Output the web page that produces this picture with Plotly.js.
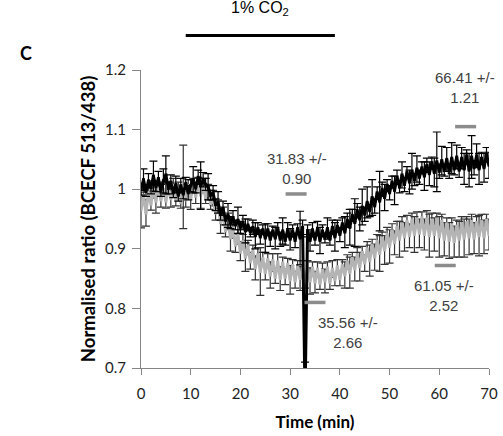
<!DOCTYPE html>
<html>
<head>
<meta charset="utf-8">
<script src="https://cdn.plot.ly/plotly-3.0.1.min.js"></script>
<style>html,body{margin:0;padding:0;background:#fff;}#chart{width:503px;height:436px;}</style>
</head>
<body>
<div id="chart"></div>
<script>
// Time (min)
var timeMin = [
0,0.5,1,1.5,2,2.5,3,3.5,4,4.5,
5,5.5,6,6.5,7,7.5,8,8.5,9,9.5,
10,10.5,11,11.5,12,12.5,13,13.5,14,14.5,
15,15.5,16,16.5,17,17.5,18,18.5,19,19.5,
20,20.5,21,21.5,22,22.5,23,23.5,24,24.5,
25,25.5,26,26.5,27,27.5,28,28.5,29,29.5,
30,30.5,31,31.5,32,32.5,33,33.5,34,34.5,
35,35.5,36,36.5,37,37.5,38,38.5,39,39.5,
40,40.5,41,41.5,42,42.5,43,43.5,44,44.5,
45,45.5,46,46.5,47,47.5,48,48.5,49,49.5,
50,50.5,51,51.5,52,52.5,53,53.5,54,54.5,
55,55.5,56,56.5,57,57.5,58,58.5,59,59.5,
60,60.5,61,61.5,62,62.5,63,63.5,64,64.5,
65,65.5,66,66.5,67,67.5,68,68.5,69,69.5,
70];

// Black series (normalised ratio)
var blackRatio = [
1.000,1.016,0.996,1.014,1.002,1.022,1.004,1.018,0.998,1.014,
1.024,1.002,1.012,0.994,1.008,0.990,1.006,0.992,1.010,0.994,
1.006,1.016,1.002,1.020,1.006,1.016,1.008,1.004,0.990,0.994,
0.974,0.978,0.958,0.968,0.948,0.956,0.944,0.952,0.940,0.948,
0.936,0.944,0.930,0.940,0.928,0.936,0.922,0.934,0.920,0.932,
0.918,0.932,0.916,0.930,0.918,0.934,0.916,0.930,0.914,0.932,
0.916,0.930,0.914,0.934,0.918,0.936,0.650,0.930,0.914,0.932,
0.916,0.934,0.914,0.930,0.918,0.934,0.916,0.936,0.920,0.938,
0.924,0.942,0.928,0.948,0.936,0.956,0.944,0.964,0.950,0.970,
0.958,0.978,0.964,0.986,0.972,0.994,0.980,1.000,0.986,1.006,
0.994,1.012,0.998,1.020,1.004,1.024,1.008,1.028,1.012,1.030,
1.016,1.034,1.020,1.036,1.022,1.040,1.026,1.044,1.028,1.046,
1.030,1.048,1.032,1.050,1.030,1.052,1.034,1.054,1.032,1.052,
1.034,1.056,1.032,1.054,1.036,1.056,1.034,1.052,1.036,1.058,
1.040];
var blackErr = [
0.010,0.018,0.008,0.012,0.010,0.025,0.008,0.012,0.010,0.020,
0.032,0.010,0.012,0.008,0.014,0.010,0.012,0.008,0.010,0.012,
0.010,0.022,0.008,0.012,0.040,0.012,0.010,0.022,0.008,0.012,
0.010,0.018,0.010,0.012,0.008,0.020,0.010,0.012,0.008,0.022,
0.010,0.012,0.020,0.010,0.008,0.012,0.022,0.010,0.012,0.008,
0.024,0.010,0.012,0.008,0.018,0.010,0.012,0.022,0.008,0.012,
0.018,0.010,0.012,0.008,0.045,0.012,0.060,0.010,0.018,0.012,
0.010,0.012,0.022,0.010,0.008,0.018,0.010,0.012,0.024,0.010,
0.012,0.010,0.026,0.012,0.030,0.010,0.040,0.012,0.020,0.030,
0.012,0.026,0.010,0.030,0.012,0.010,0.050,0.012,0.022,0.010,
0.012,0.010,0.024,0.012,0.010,0.022,0.012,0.010,0.020,0.030,
0.010,0.022,0.012,0.010,0.024,0.012,0.020,0.010,0.024,0.050,
0.012,0.024,0.010,0.020,0.012,0.026,0.010,0.020,0.012,0.018,
0.026,0.010,0.028,0.036,0.012,0.020,0.026,0.010,0.024,0.012,
0.022];

// Grey series (normalised ratio)
var greyRatio = [
0.965,0.990,0.960,0.995,0.975,1.000,0.980,1.002,0.982,1.000,
0.980,1.002,0.984,1.006,0.982,1.000,0.978,1.004,0.982,1.006,
0.984,1.008,0.988,1.010,0.990,1.006,0.986,0.996,0.976,0.986,
0.960,0.972,0.944,0.958,0.930,0.946,0.918,0.934,0.906,0.922,
0.894,0.912,0.886,0.904,0.878,0.896,0.868,0.890,0.862,0.884,
0.860,0.882,0.856,0.880,0.852,0.878,0.850,0.876,0.852,0.874,
0.848,0.872,0.846,0.870,0.850,0.868,0.844,0.866,0.846,0.868,
0.844,0.866,0.842,0.864,0.846,0.868,0.844,0.866,0.848,0.870,
0.850,0.872,0.856,0.878,0.860,0.884,0.866,0.890,0.870,0.894,
0.876,0.900,0.880,0.906,0.886,0.912,0.892,0.918,0.898,0.924,
0.904,0.930,0.910,0.936,0.916,0.942,0.920,0.946,0.922,0.948,
0.924,0.950,0.926,0.952,0.924,0.950,0.922,0.948,0.924,0.950,
0.920,0.946,0.916,0.942,0.914,0.940,0.912,0.938,0.916,0.942,
0.918,0.944,0.920,0.946,0.918,0.944,0.922,0.946,0.920,0.948,
0.924];
var greyErr = [
0.030,0.010,0.022,0.012,0.010,0.014,0.020,0.010,0.012,0.010,
0.012,0.010,0.014,0.012,0.010,0.012,0.010,0.070,0.012,0.010,
0.018,0.010,0.012,0.010,0.022,0.012,0.010,0.012,0.010,0.012,
0.012,0.010,0.018,0.012,0.010,0.014,0.022,0.010,0.012,0.010,
0.014,0.012,0.024,0.010,0.012,0.010,0.020,0.012,0.040,0.010,
0.012,0.010,0.022,0.012,0.010,0.014,0.020,0.010,0.012,0.010,
0.024,0.010,0.012,0.010,0.020,0.012,0.010,0.014,0.022,0.010,
0.018,0.012,0.010,0.012,0.020,0.010,0.012,0.014,0.010,0.012,
0.012,0.010,0.022,0.012,0.026,0.010,0.020,0.012,0.024,0.010,
0.014,0.012,0.026,0.010,0.022,0.012,0.030,0.010,0.024,0.012,
0.028,0.012,0.020,0.010,0.030,0.012,0.024,0.010,0.020,0.012,
0.030,0.012,0.024,0.010,0.026,0.014,0.036,0.012,0.028,0.010,
0.034,0.012,0.028,0.010,0.030,0.012,0.026,0.010,0.030,0.012,
0.032,0.010,0.030,0.012,0.026,0.010,0.034,0.012,0.028,0.010,
0.026];

// Half-time markers (min) and their levels, with labels
var halfTimes = [31.2, 35.0, 61.2, 65.3];
var halfLevels = [0.992, 0.810, 0.872, 1.105];
var halfLabels = ["31.83 +/-<br>0.90", "35.56 +/-<br>2.66", "61.05 +/-<br>2.52", "66.41 +/-<br>1.21"];
var labelX = [31.4, 41.6, 61.0, 65.2];
var labelY = [1.034, 0.759, 0.822, 1.170];

// CO2 exposure period (min)
var co2Start = 9, co2End = 39;

var traces = [
  {
    x: timeMin, y: greyRatio, type: 'scatter', mode: 'lines+markers',
    line: {color: '#b4b4b4', width: 3},
    marker: {color: '#b4b4b4', size: 3, symbol: 'square'},
    error_y: {type: 'data', array: greyErr, visible: true, color: '#333333', thickness: 1.2, width: 4},
    showlegend: false, hoverinfo: 'x+y'
  },
  {
    x: timeMin, y: blackRatio, type: 'scatter', mode: 'lines+markers',
    line: {color: '#000000', width: 3},
    marker: {color: '#000000', size: 3, symbol: 'square'},
    error_y: {type: 'data', array: blackErr, visible: true, color: '#000000', thickness: 1.2, width: 4},
    showlegend: false, hoverinfo: 'x+y'
  },
  {
    x: halfTimes, y: halfLevels, type: 'scatter', mode: 'markers',
    marker: {symbol: 'line-ew', size: 15, line: {color: '#8c8c8c', width: 3.5}},
    showlegend: false, hoverinfo: 'x'
  }
];

var annotations = [];
for (var i = 0; i < halfLabels.length; i++) {
  annotations.push({
    x: labelX[i], y: labelY[i], xref: 'x', yref: 'y', text: halfLabels[i],
    showarrow: false, align: 'center',
    font: {family: 'Liberation Sans, Arial, sans-serif', size: 15, color: '#404040'}
  });
}
annotations.push({
  x: (co2Start + co2End) / 2, y: 1.205, xref: 'x', yref: 'paper',
  text: '1% CO<sub>2</sub>', showarrow: false, yanchor: 'middle',
  font: {family: 'Liberation Sans, Arial, sans-serif', size: 16, color: '#000'}
});
annotations.push({
  x: -0.33, y: 1.058, xref: 'paper', yref: 'paper', text: '<b>C</b>',
  showarrow: false, xanchor: 'center', yanchor: 'middle',
  font: {family: 'Lato, sans-serif', size: 18, color: '#000'}
});

var layout = {
  width: 503, height: 436,
  margin: {l: 141, r: 14, t: 69.5, b: 68, pad: 0},
  paper_bgcolor: '#fff', plot_bgcolor: '#fff',
  font: {family: 'Lato, sans-serif', color: '#222'},
  xaxis: {
    range: [0, 70], tickvals: [0,10,20,30,40,50,60,70], ticks: 'outside', ticklen: 6,
    tickcolor: '#868686', showline: true, linecolor: '#868686', linewidth: 1,
    showgrid: false, zeroline: false, tickfont: {size: 15, color: '#222'}, ticklabelstandoff: 6,
    title: {text: '<b>Time (min)</b>', font: {size: 17, color: '#000'}, standoff: 15}
  },
  yaxis: {
    range: [0.7, 1.2], tickvals: [0.7,0.8,0.9,1.0,1.1,1.2], ticktext: ['0.7','0.8','0.9','1','1.1','1.2'],
    ticks: 'outside', ticklen: 8, tickcolor: '#868686', showline: true, linecolor: '#868686', linewidth: 1,
    showgrid: false, zeroline: false, tickfont: {size: 15, color: '#222'}, ticklabelstandoff: 3,
    title: {text: '<b>Normalised ratio (BCECF 513/438)</b>', font: {size: 18.5, color: '#000'}, standoff: 4}
  },
  shapes: [{
    type: 'line', xref: 'x', yref: 'paper', x0: co2Start, x1: co2End, y0: 1.1156, y1: 1.1156,
    line: {color: '#000', width: 3}
  }],
  annotations: annotations
};

Plotly.newPlot('chart', traces, layout, {displayModeBar: false, staticPlot: true});
</script>
</body>
</html>
